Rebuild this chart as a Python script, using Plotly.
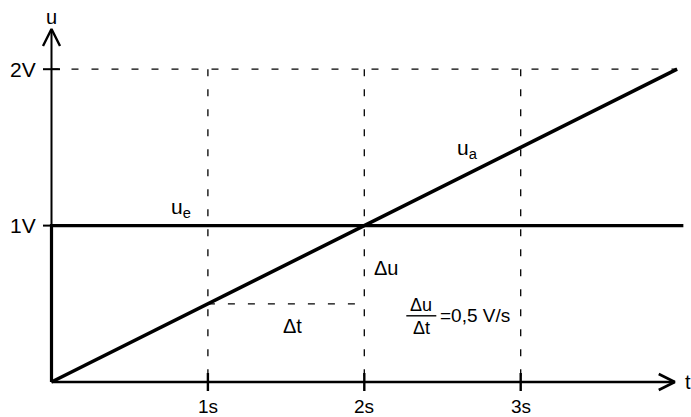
import plotly.graph_objects as go

# ---- data -------------------------------------------------------------
t_ticks = [1, 2, 3]
t_tick_labels = ["1s", "2s", "3s"]
u_ticks = [1, 2]
u_tick_labels = ["1V", "2V"]

# input voltage u_e: step to 1 V at t = 0
ue_t = [0, 0, 4.04]
ue_u = [0, 1, 1]

# output voltage u_a: ramp with 0.5 V/s
ua_t = [0, 4]
ua_u = [0, 2]

# slope triangle (Δt leg)
dt_t = [1, 2]
dt_u = [0.5, 0.5]

t_end = 4.0   # end of the dashed guide lines
u_top = 2.0

# ---- geometry ---------------------------------------------------------
W, H = 691, 417
X0, Y0 = 51.5, 382.0        # origin in pixels
S = 156.4                   # pixels per unit on both axes
x_range = [(0 - X0) / S, (W - X0) / S]
y_range = [(Y0 - H) / S, Y0 / S]

def px(dx):
    return dx / S

FONT = "Liberation Sans, Arial, sans-serif"
BLACK = "#000000"

fig = go.Figure()

def seg(xs, ys, width, dash="solid"):
    fig.add_trace(go.Scatter(x=xs, y=ys, mode="lines",
                             line=dict(color=BLACK, width=width, dash=dash),
                             hoverinfo="skip", showlegend=False))

GUIDE_DASH = "7px,13px"

# dashed guide lines
seg([0, t_end], [u_top, u_top], 1.3, GUIDE_DASH)
for t in t_ticks:
    seg([t, t], [u_top, 0], 1.3, GUIDE_DASH)
seg(dt_t, dt_u, 1.3, GUIDE_DASH)

# axes
x_tip = 3.985
y_tip = 2.257
seg([0, x_tip], [0, 0], 2.6)
seg([0, 0], [0, y_tip], 2)
# arrow heads (open chevrons)
seg([x_tip - px(16), x_tip, x_tip - px(16)], [px(8), 0, -px(8)], 2.6)
seg([-px(8.5), 0, px(8.5)], [y_tip - px(17), y_tip, y_tip - px(17)], 2.4)

# tick marks
for t in t_ticks:
    seg([t, t], [-px(9), px(9)], 2.4)
for u in u_ticks:
    seg([-px(8.5), px(8.5)], [u, u], 2)

# signals
seg(ue_t, ue_u, 3.2)
seg(ua_t, ua_u, 3.6)

# ---- text -------------------------------------------------------------
ann = []

def label(x, y, text, size=20, xanchor="center", yanchor="middle"):
    ann.append(dict(x=x, y=y, xref="x", yref="y", text=text, showarrow=False,
                    xanchor=xanchor, yanchor=yanchor,
                    font=dict(family=FONT, size=size, color=BLACK)))

for t, lab in zip(t_ticks, t_tick_labels):
    label(t, -px(24), lab, size=19)
for u, lab in zip(u_ticks, u_tick_labels):
    label(-px(14), u, lab, size=21, xanchor="right")

label(x_tip + px(13), 0, "t")
label(0, y_tip + px(12), "u")

label(0.83, 1 + px(18), "u<sub>e</sub>", size=21)
label(2.66, 1.5 - px(2), "u<sub>a</sub>", size=21)
label(2 + px(22), 0.5 + px(36), "Δu")
label(1.5 + px(6), 0.5 - px(22), "Δt")

# slope formula Δu/Δt = 0,5 V/s
fx = 2.0 + px(57)
fy = 0.5 - px(12)
label(fx, fy + px(11), "Δu", size=18)
label(fx, fy - px(12), "Δt", size=18)
seg([fx - px(15), fx + px(15)], [fy, fy], 1.4)
label(fx + px(17), fy, "=0,5 V/s", size=19, xanchor="left")

fig.update_layout(
    width=W, height=H,
    margin=dict(l=0, r=0, t=0, b=0),
    paper_bgcolor="white", plot_bgcolor="white",
    xaxis=dict(range=x_range, visible=False, fixedrange=True),
    yaxis=dict(range=y_range, visible=False, fixedrange=True),
    annotations=ann,
    showlegend=False,
)

fig.write_html("out.html")
